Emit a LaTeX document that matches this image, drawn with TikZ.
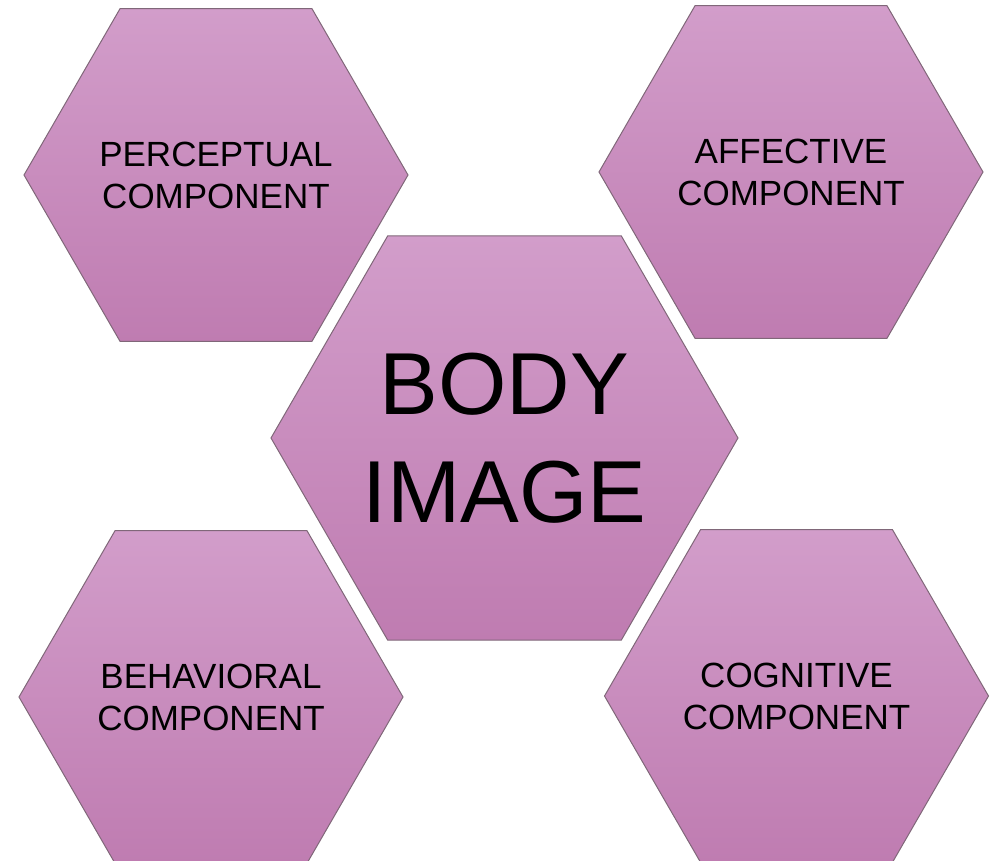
\documentclass[tikz,border=0pt]{standalone}
\usepackage{fontspec}
\setmainfont{Liberation Sans}
\usepackage{xcolor}
\usetikzlibrary{shapes.geometric, positioning}

\definecolor{hexTop}{HTML}{D29DCA}
\definecolor{hexBottom}{HTML}{BF7CB1}
\definecolor{hexLine}{HTML}{806779}

\begin{document}
\begin{tikzpicture}[x=0.5pt, y=-0.5pt,
  hexa/.style={regular polygon, regular polygon sides=6, draw=hexLine, line width=0.5pt,
    top color=hexTop, bottom color=hexBottom, inner sep=0pt, align=center},
  part/.style={hexa, minimum size=192pt, font=\fontsize{17.5}{21}\selectfont},
  core/.style={hexa, minimum size=233.5pt, font=\fontsize{44}{54}\selectfont}
]
  \useasboundingbox (0,0) rectangle (991,861);

  \node[core] (bodyImage) at (504.5,438) {BODY\\IMAGE};

  \node[part] (perceptual) at (216,175)   {PERCEPTUAL\\COMPONENT};
  \node[part] (affective)  at (791,172)   {AFFECTIVE\\COMPONENT};
  \node[part] (behavioral) at (211,697)   {BEHAVIORAL\\COMPONENT};
  \node[part] (cognitive)  at (796.5,696) {COGNITIVE\\COMPONENT};
\end{tikzpicture}
\end{document}
